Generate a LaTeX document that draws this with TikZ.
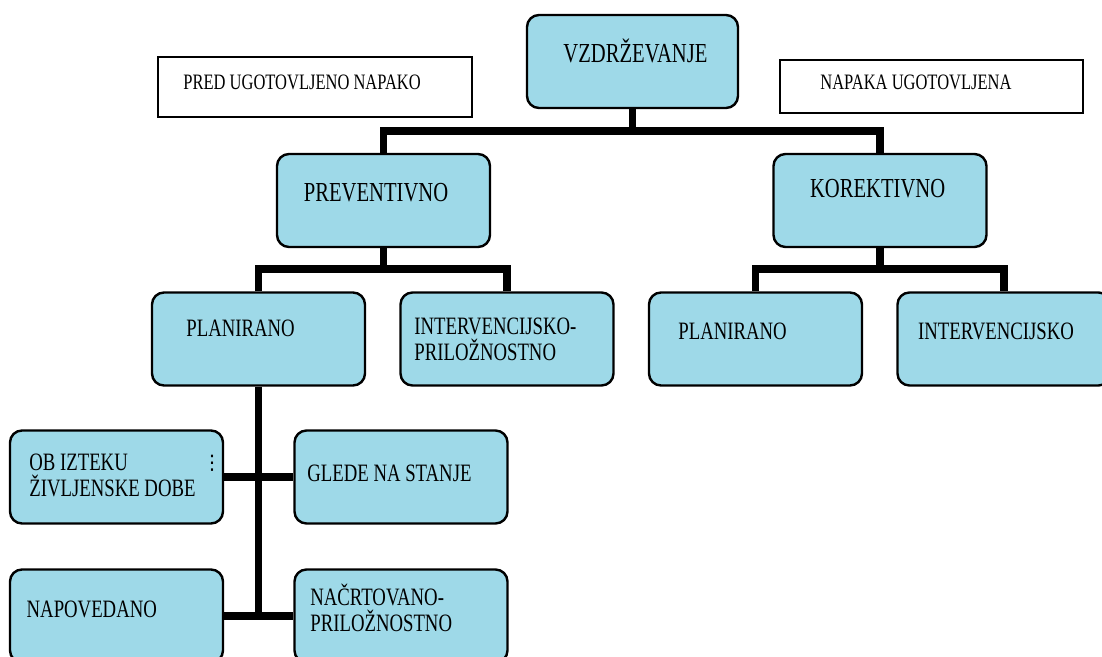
\documentclass[tikz,border=0pt]{standalone}
\usepackage{fontspec}
\setmainfont{Liberation Serif}
\newfontfamily\narrowrm[FakeStretch=0.75]{Liberation Serif}
\newfontfamily\symfont{DejaVu Sans}
\definecolor{boxblue}{RGB}{158,217,232}

\begin{document}
\begin{tikzpicture}[x=0.5pt,y=-0.5pt,
  blk/.style={draw,line width=1.2pt,rounded corners=6pt,fill=boxblue,minimum width=106.5pt,minimum height=46.5pt,inner sep=0pt},
  tag/.style={draw,line width=1.3pt,fill=white,inner sep=0pt},
  conn/.style={line width=3.8pt},
  lbl/.style={anchor=base west,inner sep=0pt,font=\narrowrm\fontsize{12.5}{14}\selectfont},
  big/.style={lbl,font=\narrowrm\fontsize{13.75}{15}\selectfont},
  note/.style={lbl,font=\narrowrm\fontsize{11}{13}\selectfont}]
  \useasboundingbox (0,0) rectangle (1102,657);
  \clip (0,0) rectangle (1102,657);
  % labels above the tree
  \node[tag,minimum width=157pt,minimum height=30pt] (pred) at (315,87) {};
  \node[tag,minimum width=151.5pt,minimum height=26.5pt] (napaka) at (931.5,86.5) {};
  \node[note] (t-pred) at (183,90) {PRED UGOTOVLJENO NAPAKO};
  \node[note] (t-napaka) at (820,90) {NAPAKA UGOTOVLJENA};
  % boxes
  \node[blk,minimum width=105.5pt] (vzd) at (632.5,61.5) {};
  \node[blk] (prev) at (383.5,200.5) {};
  \node[blk] (kor) at (880,200.5) {};
  \node[blk] (plan1) at (258.5,339) {};
  \node[blk] (int1) at (507,339) {};
  \node[blk] (plan2) at (755.5,339) {};
  \node[blk] (int2) at (1004,339) {};
  \node[blk] (ob) at (116.5,477) {};
  \node[blk] (glede) at (401,477) {};
  \node[blk] (napo) at (116.5,616) {};
  \node[blk] (nacrt) at (401,616) {};
  \coordinate (j1) at (632.5,131);
  \coordinate (j2) at (383.5,269);
  \coordinate (j3) at (880,269);
  \coordinate (j4) at (258.5,616);
  % connectors
  \draw[conn] (vzd.south) -- (j1);
  \draw[conn] (prev.north) -- (prev.north |- j1) -| (kor.north);
  \draw[conn] (prev.south) -- (j2);
  \draw[conn] (plan1.north) -- (plan1.north |- j2) -| (int1.north);
  \draw[conn] (kor.south) -- (j3);
  \draw[conn] (plan2.north) -- (plan2.north |- j3) -| (int2.north);
  \draw[conn] (plan1.south) -- (j4);
  \draw[conn] (ob) -- (glede);
  \draw[conn] (napo) -- (nacrt);
  % texts
  \node[big] (t-vzd) at (563,62.7) {VZDRŽEVANJE};
  \node[big] (t-prev) at (303.5,202) {PREVENTIVNO};
  \node[big] (t-kor) at (809.6,198) {KOREKTIVNO};
  \node[lbl] (t-plan1) at (186,337) {PLANIRANO};
  \node[lbl] (t-int1a) at (414,335) {INTERVENCIJSKO-};
  \node[lbl] (t-int1b) at (414,361) {PRILOŽNOSTNO};
  \node[lbl] (t-plan2) at (678,340) {PLANIRANO};
  \node[lbl] (t-int2) at (917.7,339.3) {INTERVENCIJSKO};
  \node[lbl] (t-oba) at (29,470) {OB IZTEKU};
  \node[lbl] (t-obb) at (29,496) {ŽIVLJENSKE DOBE};
  \node[inner sep=0pt,font=\symfont\fontsize{10}{10}\selectfont] (ob-dots) at (212,463) {⋮};
  \node[lbl] (t-glede) at (307,481) {GLEDE NA STANJE};
  \node[lbl] (t-napo) at (26.3,617.3) {NAPOVEDANO};
  \node[lbl] (t-nacrta) at (310,605) {NAČRTOVANO-};
  \node[lbl] (t-nacrtb) at (310,631.7) {PRILOŽNOSTNO};
\end{tikzpicture}
\end{document}
